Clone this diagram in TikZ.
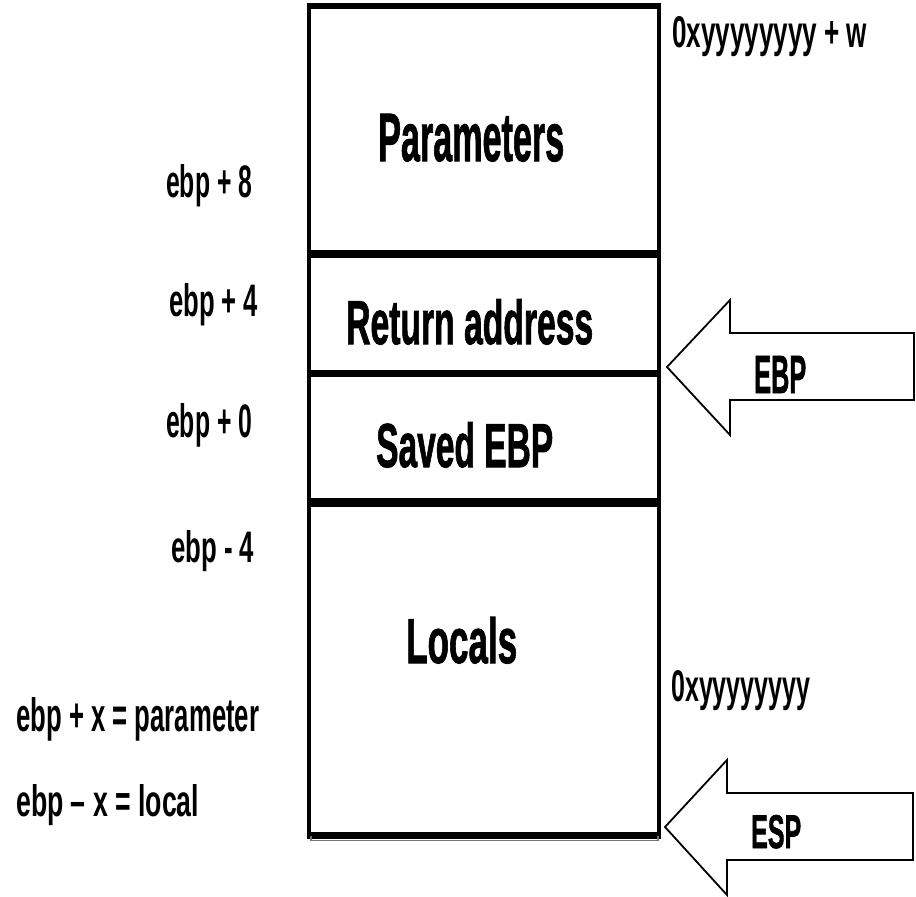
\documentclass[tikz,border=0pt]{standalone}
\usepackage{fontspec}
\usepackage{graphicx}
\newfontfamily\labfont{Liberation Sans}[FakeBold=1.6]
\newfontfamily\sidefont{Liberation Sans}
% condensed heavy label, squeezed to a given width and height (in pt)
\newcommand\fitlabel[3]{\resizebox{#1pt}{#2pt}{\labfont\bfseries #3}}
% condensed bold label for the side notes
\newcommand\fitside[3]{\resizebox{#1pt}{#2pt}{\sidefont\bfseries #3}}

\begin{document}
\begin{tikzpicture}[x=1pt,y=-1pt,
  lab/.style={inner sep=0pt, anchor=base west},
  vrule/.style={line width=4.6pt},
  hrule/.style={line width=#1pt, line cap=butt},
  ptr/.style={draw, line width=1.8pt, fill=white, line join=miter},
]
\useasboundingbox[fill=white] (0,0) rectangle (916,897);

% stack frame outline
\coordinate (tl) at (309,3);
\coordinate (bl) at (309,838);
\coordinate (tr) at (659,3);
\coordinate (br) at (659,838);
\draw[vrule] (tl) -- (bl);
\draw[vrule] (tr) -- (br);
\draw[hrule=6] (306.7,6) -- (661.3,6);
\draw[hrule=8] (306.7,254) -- (661.3,254);
\draw[hrule=7] (306.7,373) -- (661.3,373);
\draw[hrule=9] (306.7,502) -- (661.3,502);
\draw[hrule=7] (306.7,835) -- (661.3,835);
% thin shadow under the bottom edge
\draw[black!55, line width=1.1pt] (311,836) -- (311,840.5) -- (658,840.5) -- (658,836);

% cell labels
\node[lab] (params) at (378,161) {\fitlabel{186}{47}{Parameters}};
\node[lab] (ret)    at (346,344) {\fitlabel{247}{45}{Return address}};
\node[lab] (saved)  at (376,467) {\fitlabel{177}{45}{Saved EBP}};
\node[lab] (locals) at (406,663) {\fitlabel{111}{46}{Locals}};

% offsets from ebp
\node[lab] (p8) at (166,197) {\fitside{86}{33}{ebp + 8}};
\node[lab] (p4) at (169,316) {\fitside{89}{33}{ebp + 4}};
\node[lab] (p0) at (166,437) {\fitside{86}{34}{ebp + 0}};
\node[lab] (m4) at (171,562) {\fitside{83}{32}{ebp - 4}};
\node[lab] (rulep) at (16,731) {\fitside{243}{34}{ebp + x = parameter}};
\node[lab] (rulel) at (16,816) {\fitside{183}{32}{ebp – x = local}};

% addresses
\node[lab] (hiaddr) at (672,47)  {\fitside{195}{31}{0xyyyyyyyy + w}};
\node[lab] (loaddr) at (671,701) {\fitside{139}{31}{0xyyyyyyyy}};

% EBP pointer
\coordinate (ebptip) at (667,367);
\draw[ptr] (ebptip) -- (730,300) -- (730,333) -- (914,333) -- (914,400)
  -- (730,400) -- (730,435) -- cycle;
\node[lab] (ebp) at (754,393) {\fitlabel{52}{37}{EBP}};

% ESP pointer
\coordinate (esptip) at (665,827);
\draw[ptr] (esptip) -- (727,760) -- (727,793) -- (913,793) -- (913,860)
  -- (727,860) -- (727,895) -- cycle;
\node[lab] (esp) at (751,848) {\fitlabel{50}{33}{ESP}};
\end{tikzpicture}
\end{document}
